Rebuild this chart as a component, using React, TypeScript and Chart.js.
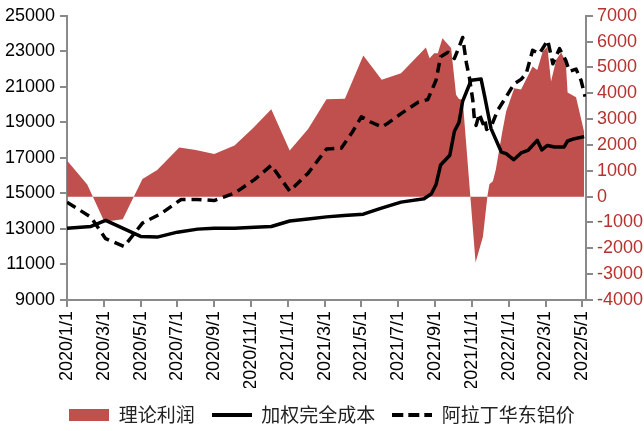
import React, { useEffect, useRef } from "react";
import { Chart, registerables } from "chart.js";

Chart.register(...registerables);

// ---- data (x = months since 2020/1/1) ----
const xTickLabels = [
  "2020/1/1", "2020/3/1", "2020/5/1", "2020/7/1", "2020/9/1", "2020/11/1",
  "2021/1/1", "2021/3/1", "2021/5/1", "2021/7/1", "2021/9/1", "2021/11/1",
  "2022/1/1", "2022/3/1", "2022/5/1",
];

const seriesNames = ["理论利润", "加权完全成本", "阿拉丁华东铝价"];

const profitMonths = [0, 1.1, 2.03, 3.03, 4.1, 4.9, 6.1, 7.0, 8.0, 9.1, 10.1, 11.1, 12.1, 13.1, 14.1, 15.1, 16.1, 17.1, 18.15, 19.5, 19.7, 19.95, 20.15, 20.4, 20.87, 21.14, 21.3, 21.5, 22.2, 22.6, 22.85, 22.95, 23.14, 23.3, 23.65, 23.86, 24.3, 24.67, 25.3, 25.55, 25.85, 26.1, 26.3, 26.58, 26.85, 27.1, 27.2, 27.66, 28.1];
const profitValues = [1400, 470, -970, -870, 680, 1035, 1900, 1810, 1650, 1980, 2650, 3380, 1790, 2620, 3770, 3790, 5465, 4520, 4780, 5775, 5360, 5555, 5555, 6135, 5750, 3940, 3780, 3750, -2550, -1550, 50, 480, 600, 1050, 2500, 3295, 4200, 4150, 5040, 4900, 5620, 5800, 4460, 5300, 5580, 5230, 4030, 3850, 2500];

const costMonths = [0, 1.3, 2.1, 4.0, 4.9, 6.0, 7.1, 8.0, 9.1, 10.2, 11.1, 12.1, 13.1, 14.1, 15.05, 16.1, 17.0, 18.15, 19.4, 19.8, 20.05, 20.3, 20.8, 21.05, 21.3, 21.5, 21.96, 22.5, 22.7, 23.04, 23.6, 23.86, 24.27, 24.67, 25.04, 25.55, 25.8, 26.1, 26.5, 27.0, 27.2, 27.57, 28.1];
const costValues = [13045, 13140, 13480, 12580, 12540, 12820, 12990, 13045, 13045, 13100, 13140, 13450, 13560, 13680, 13760, 13830, 14140, 14510, 14700, 14980, 15500, 16600, 17150, 18500, 19000, 20200, 21370, 21440, 20430, 18650, 17330, 17240, 16900, 17280, 17420, 17990, 17450, 17700, 17610, 17610, 17950, 18080, 18200];

const priceMonths = [0, 1.3, 2.1, 3.1, 4.1, 5.1, 6.2, 7.1, 8.0, 9.1, 10.2, 11.1, 12.1, 13.1, 14.1, 14.9, 15.5, 16.0, 16.5, 17.1, 17.4, 18.15, 19.1, 19.6, 20.05, 20.3, 20.7, 21.05, 21.3, 21.5, 21.7, 21.86, 22.05, 22.14, 22.23, 22.4, 22.6, 22.7, 22.8, 23.1, 23.4, 23.86, 24.3, 24.67, 24.95, 25.3, 25.67, 26.12, 26.4, 26.76, 27.1, 27.3, 27.66, 27.93, 28.15];
const priceValues = [14510, 13665, 12450, 12010, 13330, 13855, 14660, 14660, 14600, 15015, 15790, 16580, 15130, 16140, 17500, 17550, 18450, 19320, 19020, 18740, 18930, 19490, 20150, 20280, 21370, 22700, 22950, 22600, 23240, 23780, 22350, 21550, 20240, 19110, 18830, 19490, 18930, 19200, 18600, 18900, 19680, 20430, 21180, 21420, 21740, 23060, 22870, 23620, 22300, 23150, 22490, 21880, 22000, 21370, 20450];

const RED = "#c0504d";
const RED_TEXT = "#b5322f";
const AXIS_GRAY = "#8a8a8a";

function pairs(xs: number[], ys: number[]) {
  return xs.map((x, i) => ({ x, y: ys[i] }));
}

function makeSymbol(kind: string): HTMLCanvasElement {
  const c = document.createElement("canvas");
  c.width = 40;
  c.height = kind === "rect" ? 12 : 4;
  const g = c.getContext("2d")!;
  if (kind === "rect") {
    g.fillStyle = RED;
    g.fillRect(0, 0, 40, 12);
  } else {
    g.strokeStyle = "#000";
    g.lineWidth = 4;
    if (kind === "dash") g.setLineDash([11, 5]);
    g.beginPath();
    g.moveTo(0, 2);
    g.lineTo(40, 2);
    g.stroke();
  }
  return c;
}

export default function App() {
  const ref = useRef<HTMLCanvasElement | null>(null);

  useEffect(() => {
    document.body.style.margin = "0";
    const canvas = ref.current!;
    const symbols = [makeSymbol("rect"), makeSymbol("solid"), makeSymbol("dash")];
    const font = "'Liberation Sans', Arial, sans-serif";
    const plain = (v: any) => String(v);

    const chart = new Chart(canvas, {
      type: "line",
      data: {
        datasets: [
          {
            label: seriesNames[0],
            data: pairs(profitMonths, profitValues),
            yAxisID: "yR",
            fill: "origin",
            backgroundColor: RED,
            borderColor: RED,
            borderWidth: 0,
            pointRadius: 0,
            tension: 0,
            order: 3,
          },
          {
            label: seriesNames[1],
            data: pairs(costMonths, costValues),
            yAxisID: "yL",
            fill: false,
            borderColor: "#000",
            borderWidth: 3.5,
            borderJoinStyle: "round",
            pointRadius: 0,
            tension: 0,
            order: 1,
          },
          {
            label: seriesNames[2],
            data: pairs(priceMonths, priceValues),
            yAxisID: "yL",
            fill: false,
            borderColor: "#000",
            borderWidth: 3.5,
            borderDash: [10, 6],
            borderJoinStyle: "round",
            pointRadius: 0,
            tension: 0,
            order: 0,
          },
        ],
      },
      options: {
        responsive: false,
        animation: false,
        devicePixelRatio: 1,
        layout: { padding: { top: 14, left: 0, right: 0, bottom: -3 } },
        plugins: {
          tooltip: { enabled: false },
          legend: {
            position: "bottom",
            labels: {
              usePointStyle: true,
              pointStyleWidth: 40,
              padding: 17,
              color: "#222",
              font: { family: "'Noto Sans CJK SC', sans-serif", size: 19 },
              generateLabels: (ch: any) =>
                ch.data.datasets.map((ds: any, i: number) => ({
                  text: ds.label,
                  pointStyle: symbols[i],
                  fillStyle: "rgba(0,0,0,0)",
                  strokeStyle: "rgba(0,0,0,0)",
                  lineWidth: 0,
                  hidden: false,
                  datasetIndex: i,
                  fontColor: "#222",
                })),
            },
          },
        },
        scales: {
          x: {
            type: "linear",
            position: "bottom",
            min: 0,
            max: 28.2,
            afterFit: (s: any) => {
              s.height = 88;
            },
            grid: { drawOnChartArea: false, drawTicks: true, tickLength: 7, color: AXIS_GRAY, lineWidth: 2 },
            border: { display: true, color: AXIS_GRAY, width: 2 },
            ticks: {
              stepSize: 2,
              includeBounds: false,
              autoSkip: false,
              minRotation: 90,
              maxRotation: 90,
              padding: 4,
              color: "#000",
              font: { family: font, size: 18 },
              callback: (v: any) => {
                const n = Number(v);
                return n % 2 === 0 ? xTickLabels[n / 2] ?? "" : "";
              },
            },
          },
          yL: {
            type: "linear",
            position: "left",
            min: 9000,
            max: 25000,
            afterFit: (s: any) => {
              s.width = 67;
            },
            grid: { drawOnChartArea: false, drawTicks: true, tickLength: 7, color: AXIS_GRAY, lineWidth: 2 },
            border: { display: true, color: AXIS_GRAY, width: 2 },
            ticks: {
              stepSize: 2000,
              padding: 5,
              color: "#000",
              font: { family: font, size: 18 },
              callback: plain,
            },
          },
          yR: {
            type: "linear",
            position: "right",
            min: -4000,
            max: 7000,
            afterFit: (s: any) => {
              s.width = 58;
            },
            grid: { drawOnChartArea: false, drawTicks: true, tickLength: 7, color: AXIS_GRAY, lineWidth: 2 },
            border: { display: true, color: AXIS_GRAY, width: 2 },
            ticks: {
              stepSize: 1000,
              padding: 4,
              color: RED_TEXT,
              font: { family: font, size: 18 },
              callback: plain,
            },
          },
        },
      },
    } as any);

    return () => {
      chart.destroy();
    };
  }, []);

  return (
    <div style={{ position: "fixed", left: 0, top: 0, width: 644, height: 431, background: "#fff" }}>
      <canvas ref={ref} width={644} height={431} style={{ width: 644, height: 431, display: "block" }} />
    </div>
  );
}
